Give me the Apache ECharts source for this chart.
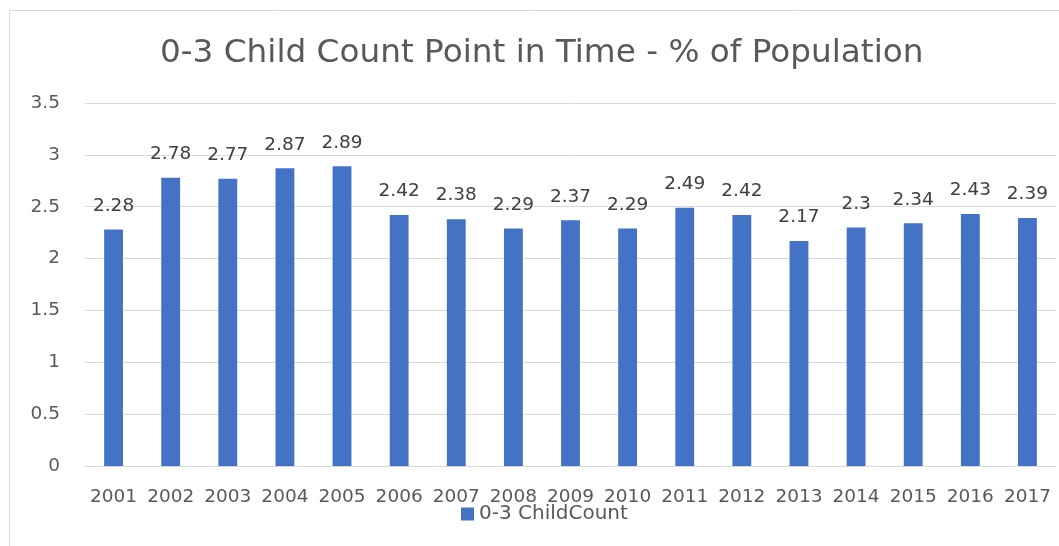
<!DOCTYPE html>
<html><head><meta charset="utf-8">
<script src="https://cdn.jsdelivr.net/npm/echarts@6/dist/echarts.min.js"></script>
<style>html,body{margin:0;padding:0;background:#fff;}#c{width:1059px;height:546px;}</style>
</head><body><div id="c"></div>
<script>
const years = ['2001','2002','2003','2004','2005','2006','2007','2008','2009','2010','2011','2012','2013','2014','2015','2016','2017'];
const childCount = [2.28,2.78,2.77,2.87,2.89,2.42,2.38,2.29,2.37,2.29,2.49,2.42,2.17,2.3,2.34,2.43,2.39];
const seriesName = '0-3 ChildCount';
const titleText = '0-3 Child Count Point in Time - % of Population';
const font = '"DejaVu Sans", sans-serif';
const chart = echarts.init(document.getElementById('c'));
chart.setOption({
  animation: false,
  backgroundColor: '#fff',
  graphic: [{type:'rect', shape:{x:9.5,y:10.5,width:1100,height:600}, style:{fill:'none', stroke:'#d9d9d9', lineWidth:1}, silent:true, z:-1}],
  title: {text: titleText, left: 155, top: 32, textStyle:{fontFamily: font, fontSize: 32.7, fontWeight: 'normal', color:'#595959'}},
  grid: {left: 85, right: 3, top: 103, bottom: 80, containLabel: false},
  legend: {bottom: 17, left: 456, itemWidth: 13, itemHeight: 13, itemGap: 7, icon: 'rect',
    textStyle:{fontFamily: font, fontSize: 20, color:'#595959'}, data:[seriesName]},
  xAxis: {type:'category', data: years,
    axisLine:{lineStyle:{color:'#d9d9d9'}}, axisTick:{show:false},
    axisLabel:{fontFamily: font, fontSize: 18.5, color:'#595959', margin: 22, interval: 0}},
  yAxis: {type:'value', min:0, max:3.5, interval:0.5,
    axisLine:{show:false}, axisTick:{show:false},
    splitLine:{lineStyle:{color:'#d9d9d9'}},
    axisLabel:{fontFamily: font, fontSize: 18.5, color:'#595959', margin: 25}},
  series: [{name: seriesName, type:'bar', data: childCount, barWidth: '33%',
    itemStyle:{color:'#4472c4'},
    label:{show:true, position:'top', distance: 14, fontFamily: font, fontSize: 18.5, color:'#404040'}}]
});
</script></body></html>
